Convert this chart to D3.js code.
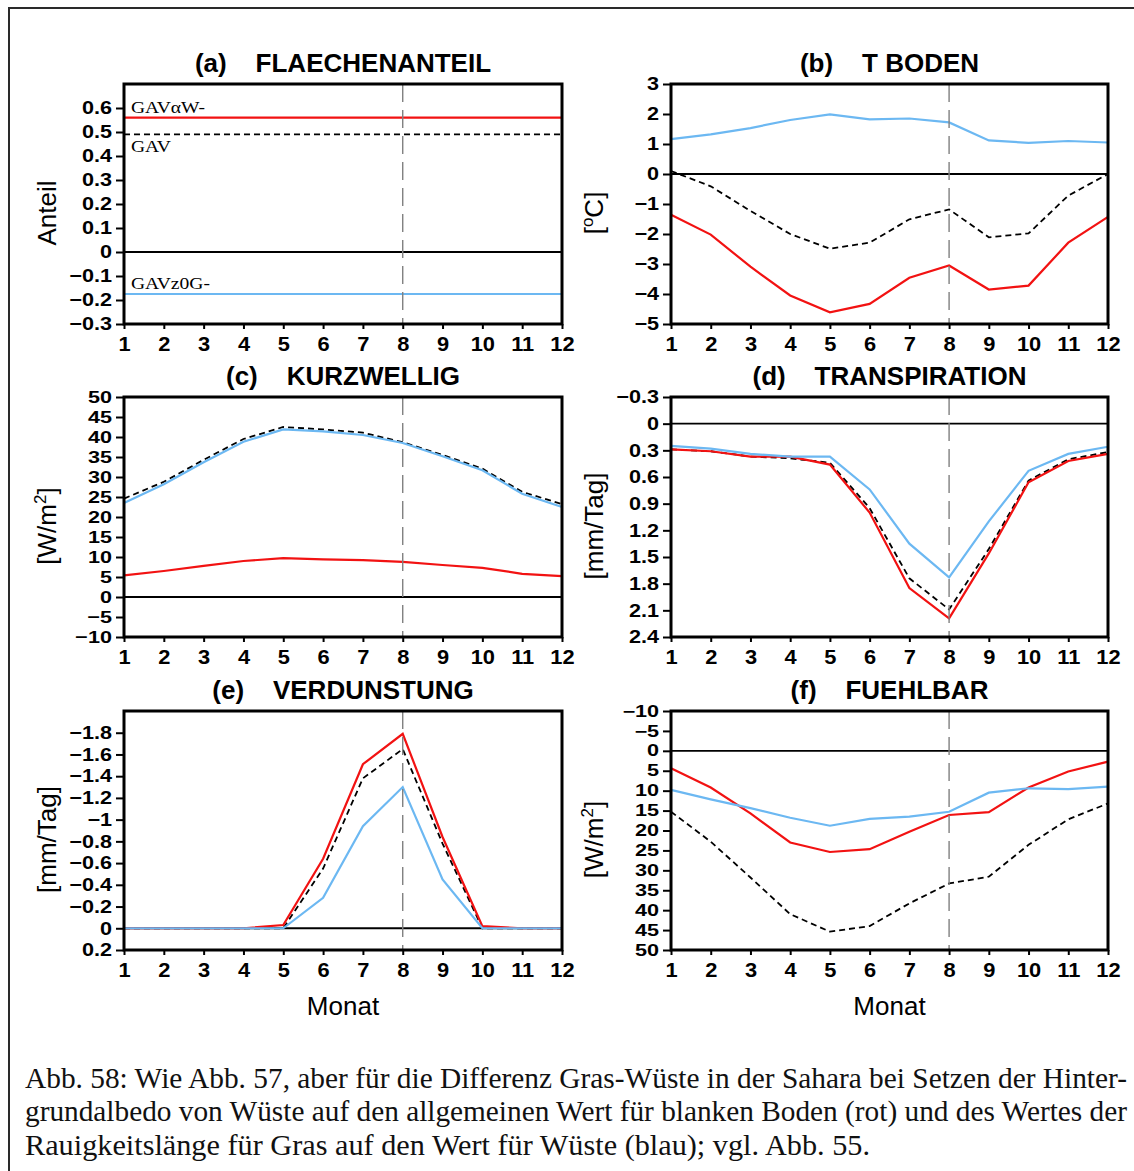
<!DOCTYPE html>
<html>
<head>
<meta charset="utf-8">
<script src="https://cdn.jsdelivr.net/npm/d3@7"></script>
<style>
  html, body { margin: 0; padding: 0; background: #fff; }
  svg { display: block; }
  text { white-space: pre; }
</style>
</head>
<body>
<svg id="fig" width="1134" height="1171"></svg>
<script>
// Months on the x axis
const months = [1, 2, 3, 4, 5, 6, 7, 8, 9, 10, 11, 12];
const markMonth = 8;

// (a) Flaechenanteil
const aRed   = [0.56, 0.56, 0.56, 0.56, 0.56, 0.56, 0.56, 0.56, 0.56, 0.56, 0.56, 0.56];
const aBlack = [0.49, 0.49, 0.49, 0.49, 0.49, 0.49, 0.49, 0.49, 0.49, 0.49, 0.49, 0.49];
const aBlue  = [-0.175, -0.175, -0.175, -0.175, -0.175, -0.175, -0.175, -0.175, -0.175, -0.175, -0.175, -0.175];
const aTicks = [-0.3, -0.2, -0.1, 0, 0.1, 0.2, 0.3, 0.4, 0.5, 0.6];

// (b) T Boden
const bRed   = [-1.36, -2.02, -3.09, -4.05, -4.61, -4.33, -3.46, -3.05, -3.85, -3.72, -2.29, -1.43];
const bBlack = [0.10, -0.41, -1.23, -2.00, -2.49, -2.29, -1.51, -1.18, -2.11, -1.98, -0.72, 0.0];
const bBlue  = [1.16, 1.32, 1.53, 1.80, 1.99, 1.82, 1.85, 1.72, 1.12, 1.04, 1.10, 1.05];
const bTicks = [-5, -4, -3, -2, -1, 0, 1, 2, 3];

// (c) Kurzwellig
const cRed   = [5.4, 6.5, 7.8, 9.0, 9.7, 9.4, 9.2, 8.8, 8.0, 7.3, 5.8, 5.2];
const cBlack = [24.6, 28.8, 34.3, 39.5, 42.5, 41.9, 41.1, 38.7, 35.5, 32.1, 26.3, 23.2];
const cBlue  = [23.5, 28.2, 33.7, 38.8, 41.9, 41.4, 40.5, 38.5, 35.2, 31.7, 25.8, 22.5];
const cTicks = [-10, -5, 0, 5, 10, 15, 20, 25, 30, 35, 40, 45, 50];

// (d) Transpiration (axis pointing down)
const dRed   = [0.29, 0.31, 0.37, 0.37, 0.46, 1.00, 1.85, 2.19, 1.46, 0.66, 0.42, 0.34];
const dBlack = [0.29, 0.31, 0.37, 0.39, 0.44, 0.95, 1.74, 2.09, 1.41, 0.64, 0.40, 0.32];
const dBlue  = [0.25, 0.28, 0.34, 0.37, 0.37, 0.74, 1.35, 1.73, 1.10, 0.53, 0.34, 0.26];
const dTicks = [-0.3, 0, 0.3, 0.6, 0.9, 1.2, 1.5, 1.8, 2.1, 2.4];

// (e) Verdunstung (axis pointing down)
const eRed   = [0, 0, 0, 0, -0.03, -0.64, -1.51, -1.79, -0.84, -0.02, 0, 0];
const eBlack = [0, 0, 0, 0, 0, -0.55, -1.38, -1.65, -0.78, 0, 0, 0];
const eBlue  = [0, 0, 0, 0, 0, -0.28, -0.94, -1.30, -0.45, 0, 0, 0];
const eTicks = [-1.8, -1.6, -1.4, -1.2, -1, -0.8, -0.6, -0.4, -0.2, 0, 0.2];

// (f) Fuehlbar (axis pointing down)
const fRed   = [4.4, 9.2, 15.7, 23.0, 25.4, 24.7, 20.3, 16.1, 15.4, 9.2, 5.2, 2.7];
const fBlack = [15.3, 22.8, 31.8, 41.0, 45.4, 44.0, 38.3, 33.3, 31.6, 23.6, 17.2, 13.2];
const fBlue  = [9.8, 12.2, 14.4, 16.8, 18.8, 17.1, 16.5, 15.3, 10.5, 9.4, 9.6, 9.0];
const fTicks = [-10, -5, 0, 5, 10, 15, 20, 25, 30, 35, 40, 45, 50];

const captionLines = [
  "Abb. 58: Wie Abb. 57, aber für die Differenz Gras-Wüste in der Sahara bei Setzen der Hinter-",
  "grundalbedo von Wüste auf den allgemeinen Wert für blanken Boden (rot) und des Wertes der",
  "Rauigkeitslänge für Gras auf den Wert für Wüste (blau); vgl. Abb. 55."
];

const RED = "#f21212", BLUE = "#6cb8f2";
const SANS = "'Liberation Sans', Arial, sans-serif";
const SERIF = "'Liberation Serif', 'Times New Roman', serif";

// widen glyphs of a text selection by factor k (keeps its anchor)
function stretch(sel, k) {
  sel.each(function () {
    const w = this.getComputedTextLength();
    d3.select(this).attr("textLength", w * k).attr("lengthAdjust", "spacingAndGlyphs");
  });
}

const svg = d3.select("#fig");

// outer figure frame
svg.append("path")
  .attr("d", "M9,1172 V8 H1135")
  .attr("fill", "none").attr("stroke", "#2a2a2a").attr("stroke-width", 2);

const colX = [[124, 562], [671, 1108]];
const rowY = [[84, 324], [397, 637], [711, 950]];

const panels = [
  { tag: "(a)", name: "FLAECHENANTEIL", col: 0, row: 0, lo: -0.3, hi: 0.7, down: false,
    ticks: aTicks, red: aRed, black: aBlack, blue: aBlue, ylab: "Anteil", fs: 18 },
  { tag: "(b)", name: "T BODEN", col: 1, row: 0, lo: -5, hi: 3, down: false,
    ticks: bTicks, red: bRed, black: bBlack, blue: bBlue, ylab: "degC", fs: 18 },
  { tag: "(c)", name: "KURZWELLIG", col: 0, row: 1, lo: -10, hi: 50, down: false,
    ticks: cTicks, red: cRed, black: cBlack, blue: cBlue, ylab: "Wm2", fs: 17 },
  { tag: "(d)", name: "TRANSPIRATION", col: 1, row: 1, lo: -0.3, hi: 2.4, down: true,
    ticks: dTicks, red: dRed, black: dBlack, blue: dBlue, ylab: "[mm/Tag]", fs: 18 },
  { tag: "(e)", name: "VERDUNSTUNG", col: 0, row: 2, lo: -2.0, hi: 0.2, down: true,
    ticks: eTicks, red: eRed, black: eBlack, blue: eBlue, ylab: "[mm/Tag]", xlab: "Monat", fs: 18 },
  { tag: "(f)", name: "FUEHLBAR", col: 1, row: 2, lo: -10, hi: 50, down: true,
    ticks: fTicks, red: fRed, black: fBlack, blue: fBlue, ylab: "Wm2", xlab: "Monat", fs: 16 }
];

const fmt = d3.format(".1~f");

panels.forEach(p => {
  const [x0, x1] = colX[p.col];
  const [y0, y1] = rowY[p.row];
  const x = d3.scaleLinear().domain([1, 12]).range([x0, x1]);
  const y = d3.scaleLinear().domain([p.lo, p.hi]).range(p.down ? [y0, y1] : [y1, y0]);
  const g = svg.append("g");

  // zero line
  g.append("line")
    .attr("x1", x0).attr("x2", x1).attr("y1", y(0)).attr("y2", y(0))
    .attr("stroke", "#000").attr("stroke-width", 1.8);

  const line = d3.line().x((d, i) => x(months[i])).y(d => y(d));
  g.append("path").datum(p.black).attr("d", line)
    .attr("fill", "none").attr("stroke", "#000").attr("stroke-width", 1.8)
    .attr("stroke-dasharray", "6,4");
  g.append("path").datum(p.red).attr("d", line)
    .attr("fill", "none").attr("stroke", RED).attr("stroke-width", 2.2);
  g.append("path").datum(p.blue).attr("d", line)
    .attr("fill", "none").attr("stroke", BLUE).attr("stroke-width", 2.2);

  // month marker
  g.append("line")
    .attr("x1", x(markMonth)).attr("x2", x(markMonth)).attr("y1", y0).attr("y2", y1)
    .attr("stroke", "#808080").attr("stroke-width", 1.4).attr("stroke-dasharray", "18,8");

  // axes
  const xAxis = d3.axisBottom(x).tickValues(months).tickSize(5).tickPadding(8)
    .tickFormat(d3.format("d"));
  const yAxis = d3.axisLeft(y).tickValues(p.ticks).tickSize(8).tickPadding(4)
    .tickFormat(d => fmt(d));
  const gx = g.append("g").attr("transform", `translate(0,${y1})`).call(xAxis);
  const gy = g.append("g").attr("transform", `translate(${x0},0)`).call(yAxis);
  [gx, gy].forEach(a => {
    a.select(".domain").remove();
    a.selectAll(".tick line").attr("stroke", "#000").attr("stroke-width", 2);
    a.selectAll(".tick text").attr("font-family", SANS)
      .attr("font-weight", "bold").attr("fill", "#000");
  });
  gx.selectAll(".tick text").attr("font-size", 19.5);
  gy.selectAll(".tick text").attr("font-size", p.fs);
  stretch(gx.selectAll(".tick text"), 1.12);
  stretch(gy.selectAll(".tick text"), 18 * 1.2 / p.fs);

  // plot frame
  g.append("rect").attr("x", x0).attr("y", y0).attr("width", x1 - x0).attr("height", y1 - y0)
    .attr("fill", "none").attr("stroke", "#000").attr("stroke-width", 3);

  // panel title
  const title = g.append("text").attr("x", (x0 + x1) / 2).attr("y", y0 - 12)
    .attr("text-anchor", "middle").attr("font-family", SANS).attr("font-size", 25)
    .attr("font-weight", "bold").text(`${p.tag}    ${p.name}`);
  stretch(title, 1.04);

  // y axis label
  const ly = g.append("text")
    .attr("transform", `translate(${x0 - 68},${(y0 + y1) / 2 + 9}) rotate(-90)`)
    .attr("text-anchor", "middle").attr("font-family", SANS).attr("font-size", 26);
  if (p.ylab === "degC") {
    ly.append("tspan").text("[");
    ly.append("tspan").attr("font-size", 17).attr("dy", -10).text("o");
    ly.append("tspan").attr("dy", 10).text("C]");
  } else if (p.ylab === "Wm2") {
    ly.append("tspan").text("[W/m");
    ly.append("tspan").attr("font-size", 17).attr("dy", -10).text("2");
    ly.append("tspan").attr("dy", 10).text("]");
  } else {
    ly.text(p.ylab);
  }

  if (p.xlab) {
    g.append("text").attr("x", (x0 + x1) / 2).attr("y", y1 + 65)
      .attr("text-anchor", "middle").attr("font-family", SANS).attr("font-size", 26)
      .text(p.xlab);
  }

  // curve labels in panel (a)
  if (p.tag === "(a)") {
    const lab = (t, v, dy) => g.append("text").attr("x", x0 + 7).attr("y", y(v) + dy)
      .attr("font-family", SERIF).attr("font-size", 17).text(t);
    stretch(lab("GAVαW-", p.red[0], -5), 1.15);
    stretch(lab("GAV", p.black[0], 18), 1.15);
    stretch(lab("GAVz0G-", p.blue[0], -5), 1.15);
  }
});

// caption
const capY = [1088, 1121, 1155];
const capW = [1102, 1102, 845];
captionLines.forEach((t, i) => {
  svg.append("text").attr("x", 25).attr("y", capY[i])
    .attr("font-family", SERIF).attr("font-size", 29).attr("fill", "#111")
    .attr("textLength", capW[i]).attr("lengthAdjust", "spacingAndGlyphs").text(t);
});
</script>
</body>
</html>
